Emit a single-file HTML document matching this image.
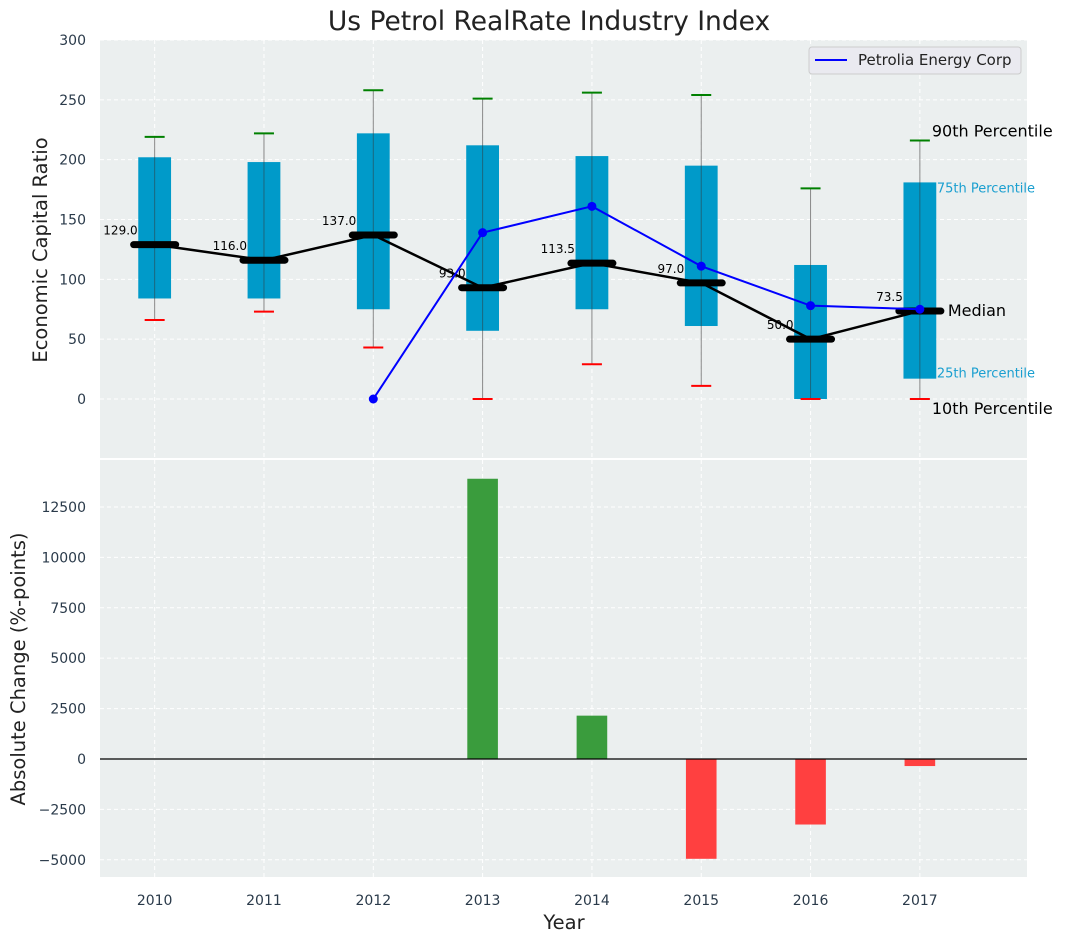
<!DOCTYPE html>
<html><head><meta charset="utf-8"><style>
body{margin:0;background:#fff;font-family:"Liberation Sans","DejaVu Sans",sans-serif}
svg text{font-family:"DejaVu Sans","Liberation Sans",sans-serif}
</style></head><body>
<svg id="c" width="1067" height="942"></svg>
<script>
const years=[2010,2011,2012,2013,2014,2015,2016,2017];
const p10=[66,73,43,0,29,11,0,0];
const q1=[84,84,75,57,75,61,0,17];
const med=[129,116,137,93,113.5,97,50,73.5];
const q3=[202,198,222,212,203,195,112,181];
const p90=[219,222,258,251,256,254,176,216];
const lineYears=[2012,2013,2014,2015,2016,2017];
const lineVals=[0,139,161,111,78,75];
const changes=[0,0,0,13900,2150,-4950,-3250,-350];
const topTicks=[0,50,100,150,200,250,300];
const botTicks=[-5000,-2500,0,2500,5000,7500,10000,12500];

const S='http://www.w3.org/2000/svg';
const svg=document.getElementById('c');
function el(t,a,txt){const e=document.createElementNS(S,t);for(const k in a)e.setAttribute(k,a[k]);if(txt!==undefined)e.textContent=txt;svg.appendChild(e);return e;}
const L=100,R=1027;
const x=v=>L+(v-2009.5)/(2017.98-2009.5)*(R-L);
const T0=40,T1=458,yT=v=>T0+(300-v)/(300-(-49.3))*(T1-T0);
const B0=460,B1=877,yB=v=>B0+(14830-v)/(14830-(-5853))*(B1-B0);

let e;
e=el('rect',{x:L,y:T0,width:R-L,height:T1-T0,fill:'#ebefef'});

e=el('rect',{x:L,y:B0,width:R-L,height:B1-B0,fill:'#ebefef'});

years.forEach(v=>{
 e=el('line',{x1:x(v),x2:x(v),y1:T0,y2:T1,stroke:'#fff','stroke-dasharray':'4,3'});
 
 e=el('line',{x1:x(v),x2:x(v),y1:B0,y2:B1,stroke:'#fff','stroke-dasharray':'4,3'});
 
 e=el('text',{x:x(v),y:905,'text-anchor':'middle','font-size':14,fill:'#2a3a4a'},v);
 
});
topTicks.forEach(v=>{
 e=el('line',{x1:L,x2:R,y1:yT(v),y2:yT(v),stroke:'#fff','stroke-dasharray':'4,3'});
 
 e=el('text',{x:86,y:yT(v)+5,'text-anchor':'end','font-size':14,fill:'#2a3a4a'},v);
 
});
botTicks.forEach(v=>{
 e=el('line',{x1:L,x2:R,y1:yB(v),y2:yB(v),stroke:'#fff','stroke-dasharray':'4,3'});
 
 e=el('text',{x:86,y:yB(v)+5,'text-anchor':'end','font-size':14,fill:'#2a3a4a'},v===0?'0':(v<0?'\u2212'+(-v):v));
 
});
const yr=x(2011)-x(2010);
years.forEach((v,i)=>{
 const cx=x(v);
 e=el('line',{x1:cx,x2:cx,y1:yT(p10[i]),y2:yT(p90[i]),stroke:'#888','stroke-width':1});
 
 e=el('rect',{x:cx-0.15*yr,y:yT(q3[i]),width:0.3*yr,height:yT(q1[i])-yT(q3[i]),fill:'#009ac9'});
 
 e=el('line',{x1:cx,x2:cx,y1:yT(q1[i]),y2:yT(q3[i]),stroke:'#333','stroke-opacity':0.5,'stroke-width':1});
 
 e=el('line',{x1:cx-10,x2:cx+10,y1:yT(p90[i]),y2:yT(p90[i]),stroke:'green','stroke-width':2});
 
 e=el('line',{x1:cx-10,x2:cx+10,y1:yT(p10[i]),y2:yT(p10[i]),stroke:'red','stroke-width':2});
 
});
e=el('polyline',{points:years.map((v,i)=>x(v)+','+yT(med[i])).join(' '),fill:'none',stroke:'#000','stroke-width':2.5});

years.forEach((v,i)=>{
 const cx=x(v),cy=yT(med[i]);
 e=el('line',{x1:cx-21,x2:cx+21,y1:cy,y2:cy,stroke:'#000','stroke-width':7,'stroke-linecap':'round'});
 
 e=el('text',{x:cx-17,y:cy-10,'text-anchor':'end','font-size':12,fill:'#000'},med[i].toFixed(1));
 
});
e=el('polyline',{points:lineYears.map((v,i)=>x(v)+','+yT(lineVals[i])).join(' '),fill:'none',stroke:'blue','stroke-width':2});

lineYears.forEach((v,i)=>{
 e=el('circle',{cx:x(v),cy:yT(lineVals[i]),r:4.5,fill:'blue'});
 
});
const li=years.length-1,lx=x(years[li]);
[['90th Percentile',p90[li],16,'#000',12,-4],['75th Percentile',q3[li],13,'#1a9fd0',17,10],['Median',med[li],16,'#000',28,5],['25th Percentile',q1[li],13,'#1a9fd0',17,-1],['10th Percentile',p10[li],16,'#000',12,15]].forEach(a=>{
 e=el('text',{x:lx+a[4],y:yT(a[1])+a[5],'font-size':a[2],fill:a[3]},a[0]);
 
});
years.forEach((v,i)=>{
 const c=changes[i]; if(c===0)return;
 const y0=yB(0),y1=yB(c);
 e=el('rect',{x:x(v)-0.14*yr,width:0.28*yr,y:Math.min(y0,y1),height:Math.abs(y1-y0),fill:c>0?'#3a9c3d':'#ff4040'});
 
});
e=el('line',{x1:L,x2:R,y1:yB(0),y2:yB(0),stroke:'#000','stroke-width':1.2});

e=el('rect',{x:809,y:47,width:212,height:27,rx:3,fill:'#eaeaf0',stroke:'#ccc'});

e=el('line',{x1:815,x2:847,y1:60,y2:60,stroke:'blue','stroke-width':2});

e=el('text',{x:858,y:65,'font-size':15,fill:'#222'},'Petrolia Energy Corp');

e=el('text',{x:549,y:30,'text-anchor':'middle','font-size':26.5,fill:'#222'},'Us Petrol RealRate Industry Index');

e=el('text',{x:47,y:250,'text-anchor':'middle','font-size':19.5,fill:'#222',transform:'rotate(-90 47 250)'},'Economic Capital Ratio');

e=el('text',{x:25,y:669,'text-anchor':'middle','font-size':19.5,fill:'#222',transform:'rotate(-90 25 669)'},'Absolute Change (%-points)');

e=el('text',{x:564,y:929,'text-anchor':'middle','font-size':19.5,fill:'#222'},'Year');

</script>
</body></html>
